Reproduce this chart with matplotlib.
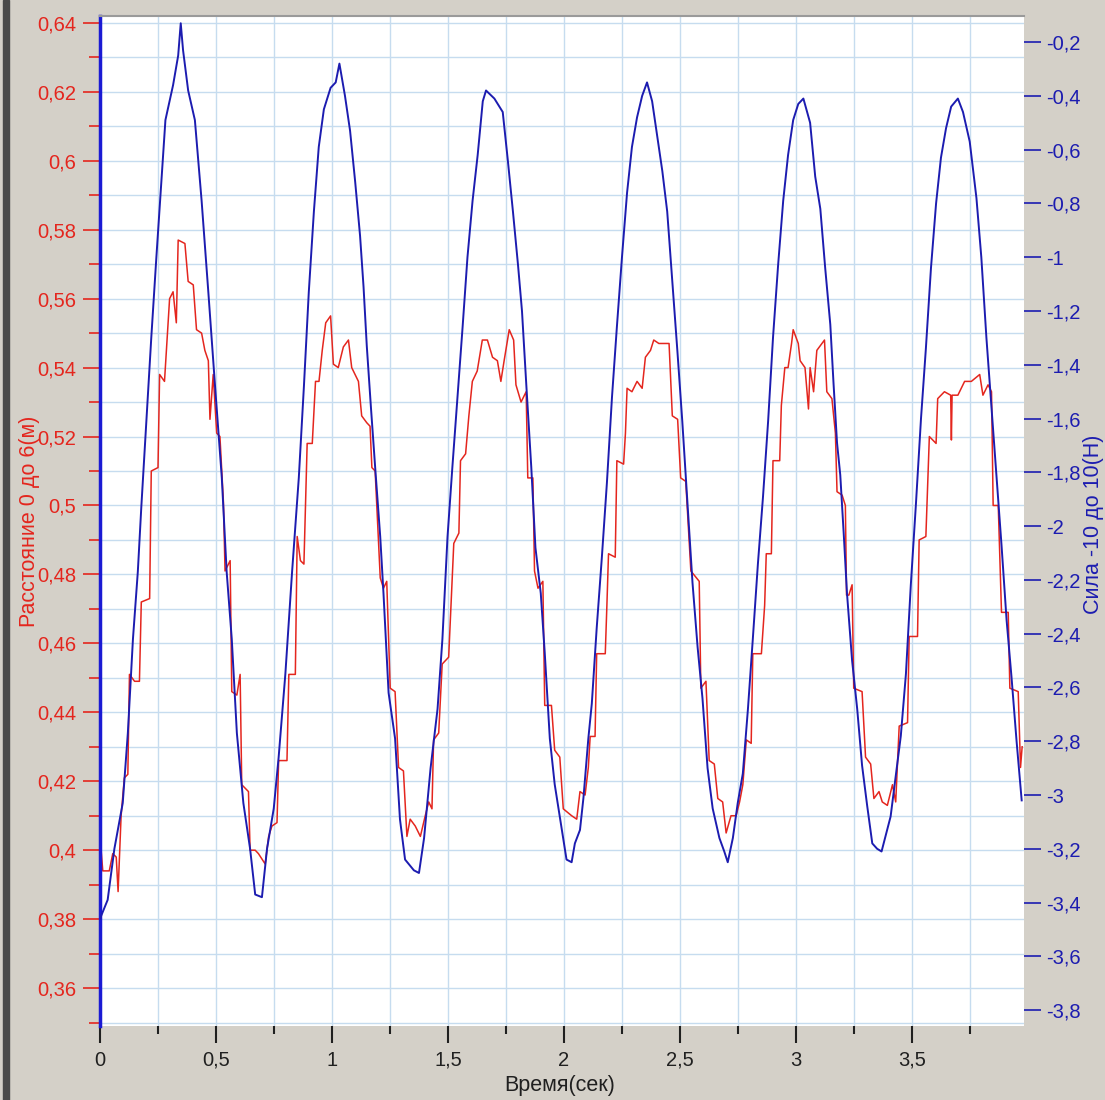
import matplotlib
matplotlib.use('Agg')
from matplotlib import pyplot as plt
from matplotlib.ticker import MultipleLocator, FuncFormatter
from matplotlib.patches import Rectangle

plt.rcParams['font.family'] = ['Liberation Sans', 'DejaVu Sans']

# distance sensor, m (left axis)
t_dist = [0.000, 0.012, 0.040, 0.055, 0.070, 0.078, 0.084, 0.091, 0.105, 0.120,
          0.127, 0.149, 0.170, 0.178, 0.214, 0.221, 0.250, 0.257, 0.278, 0.300,
          0.315, 0.329, 0.337, 0.366, 0.380, 0.402, 0.416, 0.438, 0.452, 0.467,
          0.474, 0.488, 0.503, 0.517, 0.532, 0.539, 0.561, 0.568, 0.590, 0.604,
          0.611, 0.640, 0.647, 0.669, 0.683, 0.712, 0.727, 0.741, 0.763, 0.770,
          0.806, 0.814, 0.842, 0.850, 0.864, 0.879, 0.893, 0.915, 0.929, 0.944,
          0.958, 0.973, 0.994, 1.006, 1.027, 1.049, 1.071, 1.085, 1.114, 1.128,
          1.150, 1.164, 1.172, 1.186, 1.193, 1.208, 1.222, 1.236, 1.251, 1.272,
          1.287, 1.308, 1.323, 1.337, 1.359, 1.381, 1.402, 1.417, 1.431, 1.438,
          1.460, 1.475, 1.503, 1.525, 1.547, 1.554, 1.576, 1.590, 1.605, 1.626,
          1.648, 1.670, 1.692, 1.713, 1.728, 1.742, 1.764, 1.783, 1.793, 1.815,
          1.837, 1.844, 1.866, 1.873, 1.888, 1.909, 1.917, 1.946, 1.960, 1.982,
          1.997, 2.033, 2.055, 2.069, 2.091, 2.105, 2.113, 2.134, 2.141, 2.178,
          2.185, 2.192, 2.221, 2.228, 2.257, 2.265, 2.272, 2.293, 2.315, 2.337,
          2.351, 2.373, 2.387, 2.409, 2.438, 2.453, 2.467, 2.490, 2.503, 2.525,
          2.547, 2.583, 2.590, 2.612, 2.626, 2.648, 2.663, 2.684, 2.699, 2.720,
          2.742, 2.757, 2.771, 2.786, 2.807, 2.814, 2.851, 2.865, 2.872, 2.894,
          2.901, 2.930, 2.937, 2.952, 2.966, 2.981, 2.988, 3.010, 3.018, 3.039,
          3.054, 3.061, 3.076, 3.090, 3.112, 3.123, 3.133, 3.155, 3.170, 3.177,
          3.199, 3.213, 3.218, 3.228, 3.242, 3.249, 3.285, 3.300, 3.322, 3.336,
          3.358, 3.372, 3.394, 3.416, 3.430, 3.445, 3.481, 3.488, 3.524, 3.531,
          3.560, 3.575, 3.604, 3.611, 3.640, 3.667, 3.670, 3.673, 3.698, 3.727,
          3.756, 3.792, 3.806, 3.828, 3.843, 3.850, 3.872, 3.886, 3.915, 3.922,
          3.958, 3.968, 3.975]
dist = [0.404, 0.394, 0.394, 0.399, 0.398, 0.388, 0.398, 0.410, 0.421, 0.422,
        0.451, 0.449, 0.449, 0.472, 0.473, 0.510, 0.511, 0.538, 0.536, 0.560,
        0.562, 0.553, 0.577, 0.576, 0.565, 0.564, 0.551, 0.550, 0.545, 0.542,
        0.525, 0.538, 0.521, 0.520, 0.501, 0.481, 0.484, 0.446, 0.445, 0.451,
        0.419, 0.417, 0.400, 0.400, 0.399, 0.396, 0.404, 0.407, 0.408, 0.426,
        0.426, 0.451, 0.451, 0.491, 0.484, 0.483, 0.518, 0.518, 0.536, 0.536,
        0.545, 0.553, 0.555, 0.541, 0.540, 0.546, 0.548, 0.540, 0.536, 0.526,
        0.524, 0.523, 0.511, 0.510, 0.500, 0.479, 0.476, 0.478, 0.447, 0.446,
        0.424, 0.423, 0.404, 0.409, 0.407, 0.404, 0.410, 0.414, 0.412, 0.432,
        0.434, 0.454, 0.456, 0.489, 0.492, 0.513, 0.515, 0.526, 0.536, 0.539,
        0.548, 0.548, 0.543, 0.542, 0.536, 0.542, 0.551, 0.548, 0.535, 0.530,
        0.533, 0.508, 0.508, 0.481, 0.476, 0.478, 0.442, 0.442, 0.429, 0.427,
        0.412, 0.410, 0.409, 0.417, 0.416, 0.424, 0.433, 0.433, 0.457, 0.457,
        0.471, 0.486, 0.485, 0.513, 0.512, 0.521, 0.534, 0.533, 0.536, 0.534,
        0.543, 0.545, 0.548, 0.547, 0.547, 0.547, 0.526, 0.525, 0.508, 0.507,
        0.481, 0.478, 0.447, 0.449, 0.426, 0.425, 0.415, 0.414, 0.405, 0.410,
        0.410, 0.414, 0.419, 0.432, 0.431, 0.457, 0.457, 0.471, 0.486, 0.486,
        0.513, 0.513, 0.529, 0.540, 0.540, 0.547, 0.551, 0.547, 0.542, 0.540,
        0.528, 0.540, 0.533, 0.545, 0.547, 0.548, 0.533, 0.531, 0.521, 0.504,
        0.503, 0.500, 0.474, 0.474, 0.477, 0.447, 0.446, 0.427, 0.425, 0.415,
        0.417, 0.414, 0.413, 0.419, 0.414, 0.436, 0.437, 0.462, 0.462, 0.490,
        0.491, 0.520, 0.518, 0.531, 0.533, 0.532, 0.519, 0.532, 0.532, 0.536,
        0.536, 0.538, 0.532, 0.535, 0.533, 0.500, 0.500, 0.469, 0.469, 0.447,
        0.446, 0.424, 0.430]

# force sensor, N (right axis)
t_force = [0.000, 0.033, 0.062, 0.098, 0.120, 0.142, 0.163, 0.178, 0.200, 0.221,
           0.243, 0.262, 0.282, 0.315, 0.337, 0.348, 0.358, 0.380, 0.409, 0.438,
           0.467, 0.496, 0.525, 0.546, 0.568, 0.590, 0.618, 0.647, 0.669, 0.698,
           0.720, 0.749, 0.770, 0.799, 0.828, 0.857, 0.879, 0.900, 0.922, 0.943,
           0.965, 0.994, 1.016, 1.032, 1.056, 1.078, 1.100, 1.121, 1.136, 1.150,
           1.168, 1.186, 1.208, 1.222, 1.244, 1.272, 1.293, 1.315, 1.353, 1.375,
           1.397, 1.425, 1.455, 1.476, 1.498, 1.519, 1.541, 1.563, 1.584, 1.606,
           1.628, 1.650, 1.664, 1.700, 1.736, 1.758, 1.780, 1.802, 1.819, 1.838,
           1.859, 1.877, 1.900, 1.917, 1.939, 1.960, 1.989, 2.011, 2.033, 2.047,
           2.069, 2.084, 2.105, 2.120, 2.141, 2.163, 2.185, 2.207, 2.228, 2.250,
           2.272, 2.293, 2.315, 2.337, 2.358, 2.380, 2.402, 2.424, 2.445, 2.467,
           2.489, 2.510, 2.532, 2.554, 2.576, 2.597, 2.619, 2.641, 2.670, 2.691,
           2.706, 2.728, 2.749, 2.771, 2.793, 2.814, 2.836, 2.858, 2.880, 2.901,
           2.923, 2.945, 2.966, 2.988, 3.010, 3.032, 3.061, 3.083, 3.105, 3.126,
           3.148, 3.162, 3.177, 3.191, 3.206, 3.220, 3.242, 3.264, 3.285, 3.307,
           3.329, 3.350, 3.369, 3.387, 3.408, 3.430, 3.452, 3.474, 3.495, 3.517,
           3.539, 3.560, 3.582, 3.604, 3.625, 3.647, 3.669, 3.698, 3.720, 3.749,
           3.778, 3.799, 3.821, 3.843, 3.864, 3.886, 3.908, 3.929, 3.951, 3.973]
force = [-3.46, -3.39, -3.20, -3.03, -2.77, -2.42, -2.17, -1.93, -1.61, -1.30,
         -1.00, -0.75, -0.49, -0.36, -0.25, -0.13, -0.23, -0.38, -0.49, -0.79,
         -1.13, -1.48, -1.82, -2.17, -2.42, -2.77, -3.03, -3.20, -3.37, -3.38,
         -3.20, -3.05, -2.86, -2.55, -2.17, -1.82, -1.48, -1.13, -0.83, -0.59,
         -0.45, -0.37, -0.35, -0.28, -0.40, -0.53, -0.72, -0.92, -1.11, -1.33,
         -1.56, -1.78, -2.04, -2.25, -2.62, -2.79, -3.09, -3.24, -3.28, -3.29,
         -3.16, -2.90, -2.68, -2.42, -2.04, -1.78, -1.52, -1.26, -1.00, -0.79,
         -0.62, -0.42, -0.38, -0.41, -0.46, -0.64, -0.83, -1.03, -1.20, -1.48,
         -1.78, -2.08, -2.25, -2.47, -2.79, -2.96, -3.12, -3.24, -3.25, -3.18,
         -3.13, -3.01, -2.79, -2.66, -2.38, -2.12, -1.84, -1.52, -1.26, -1.00,
         -0.76, -0.59, -0.48, -0.40, -0.35, -0.42, -0.55, -0.68, -0.83, -1.09,
         -1.35, -1.61, -1.91, -2.21, -2.45, -2.64, -2.90, -3.05, -3.16, -3.21,
         -3.25, -3.16, -3.03, -2.92, -2.68, -2.42, -2.14, -1.89, -1.61, -1.30,
         -1.03, -0.79, -0.62, -0.49, -0.43, -0.41, -0.50, -0.70, -0.82, -1.04,
         -1.25, -1.47, -1.69, -1.81, -2.03, -2.25, -2.50, -2.68, -2.89, -3.04,
         -3.18, -3.20, -3.21, -3.15, -3.08, -2.93, -2.78, -2.55, -2.22, -1.92,
         -1.60, -1.34, -1.04, -0.80, -0.63, -0.52, -0.44, -0.41, -0.46, -0.57,
         -0.78, -1.00, -1.30, -1.56, -1.81, -2.07, -2.35, -2.56, -2.80, -3.02]

RED = '#e4261e'
BLUE = '#1c1cb0'


def comma(v, pos):
    s = f"{v:.2f}".rstrip('0').rstrip('.')
    if s == '-0':
        s = '0'
    return s.replace('.', ',')


fig = plt.figure(figsize=(11.05, 11.0), dpi=100, facecolor='#d4d0c8')
ax = fig.add_axes([100/1105, 1-1026/1100, 924/1105, 1010/1100])
ax.set_facecolor('white')
ax.set_xlim(0, 3.983)
ax.set_ylim(0.349, 0.642)

ax2 = ax.twinx()
ax2.set_ylim(-3.859, -0.103)

ax.plot(t_dist, dist, color=RED, lw=1.1)
ax2.plot(t_force, force, color=BLUE, lw=1.4)

ax.xaxis.set_major_locator(MultipleLocator(0.5))
ax.xaxis.set_minor_locator(MultipleLocator(0.25))
ax.yaxis.set_major_locator(MultipleLocator(0.02))
ax.yaxis.set_minor_locator(MultipleLocator(0.01))
ax2.yaxis.set_major_locator(MultipleLocator(0.2))
ax.xaxis.set_major_formatter(FuncFormatter(comma))
ax.yaxis.set_major_formatter(FuncFormatter(comma))
ax2.yaxis.set_major_formatter(FuncFormatter(comma))

ax.set_axisbelow(True)
ax.grid(which='both', color='#c6dcef', lw=1.0)

for s in ['right', 'bottom']:
    ax.spines[s].set_visible(False)
ax.spines['left'].set_color('#1a1ad4')
ax.spines['left'].set_linewidth(2.5)
ax.spines['top'].set_color('#9a9a9a')
ax.spines['top'].set_linewidth(1.5)
for s in ax2.spines.values():
    s.set_visible(False)

ax.tick_params(axis='y', which='major', colors=RED, length=12, width=1.2,
               labelsize=14.5, pad=5)
ax.tick_params(axis='y', which='minor', colors=RED, length=8, width=1.2)
ax.tick_params(axis='x', which='major', colors='#202020', length=12, width=1.5,
               labelsize=14.5, pad=6)
ax.tick_params(axis='x', which='minor', colors='#202020', length=6, width=1.5)
ax2.tick_params(axis='y', colors=BLUE, length=12, width=1.2, labelsize=14.5, pad=4)

fig.text(30/1105, 1-521/1100, 'Расстояние 0 до 6(м)', color=RED, fontsize=15.5,
         rotation=90, ha='center', va='center')
fig.text(1093/1105, 1-524/1100, 'Сила -10 до 10(Н)', color=BLUE, fontsize=15.5,
         rotation=90, ha='center', va='center')
fig.text(560/1105, 1-1085/1100, 'Время(сек)', color='#202020', fontsize=15.5,
         ha='center', va='center')

# dark window frame on the left
fig.patches.append(Rectangle((3/1105, 0), 6/1105, 1, transform=fig.transFigure,
                             color='#4a4a4a', zorder=-1))

fig.savefig('out.png', dpi=100, facecolor=fig.get_facecolor())
